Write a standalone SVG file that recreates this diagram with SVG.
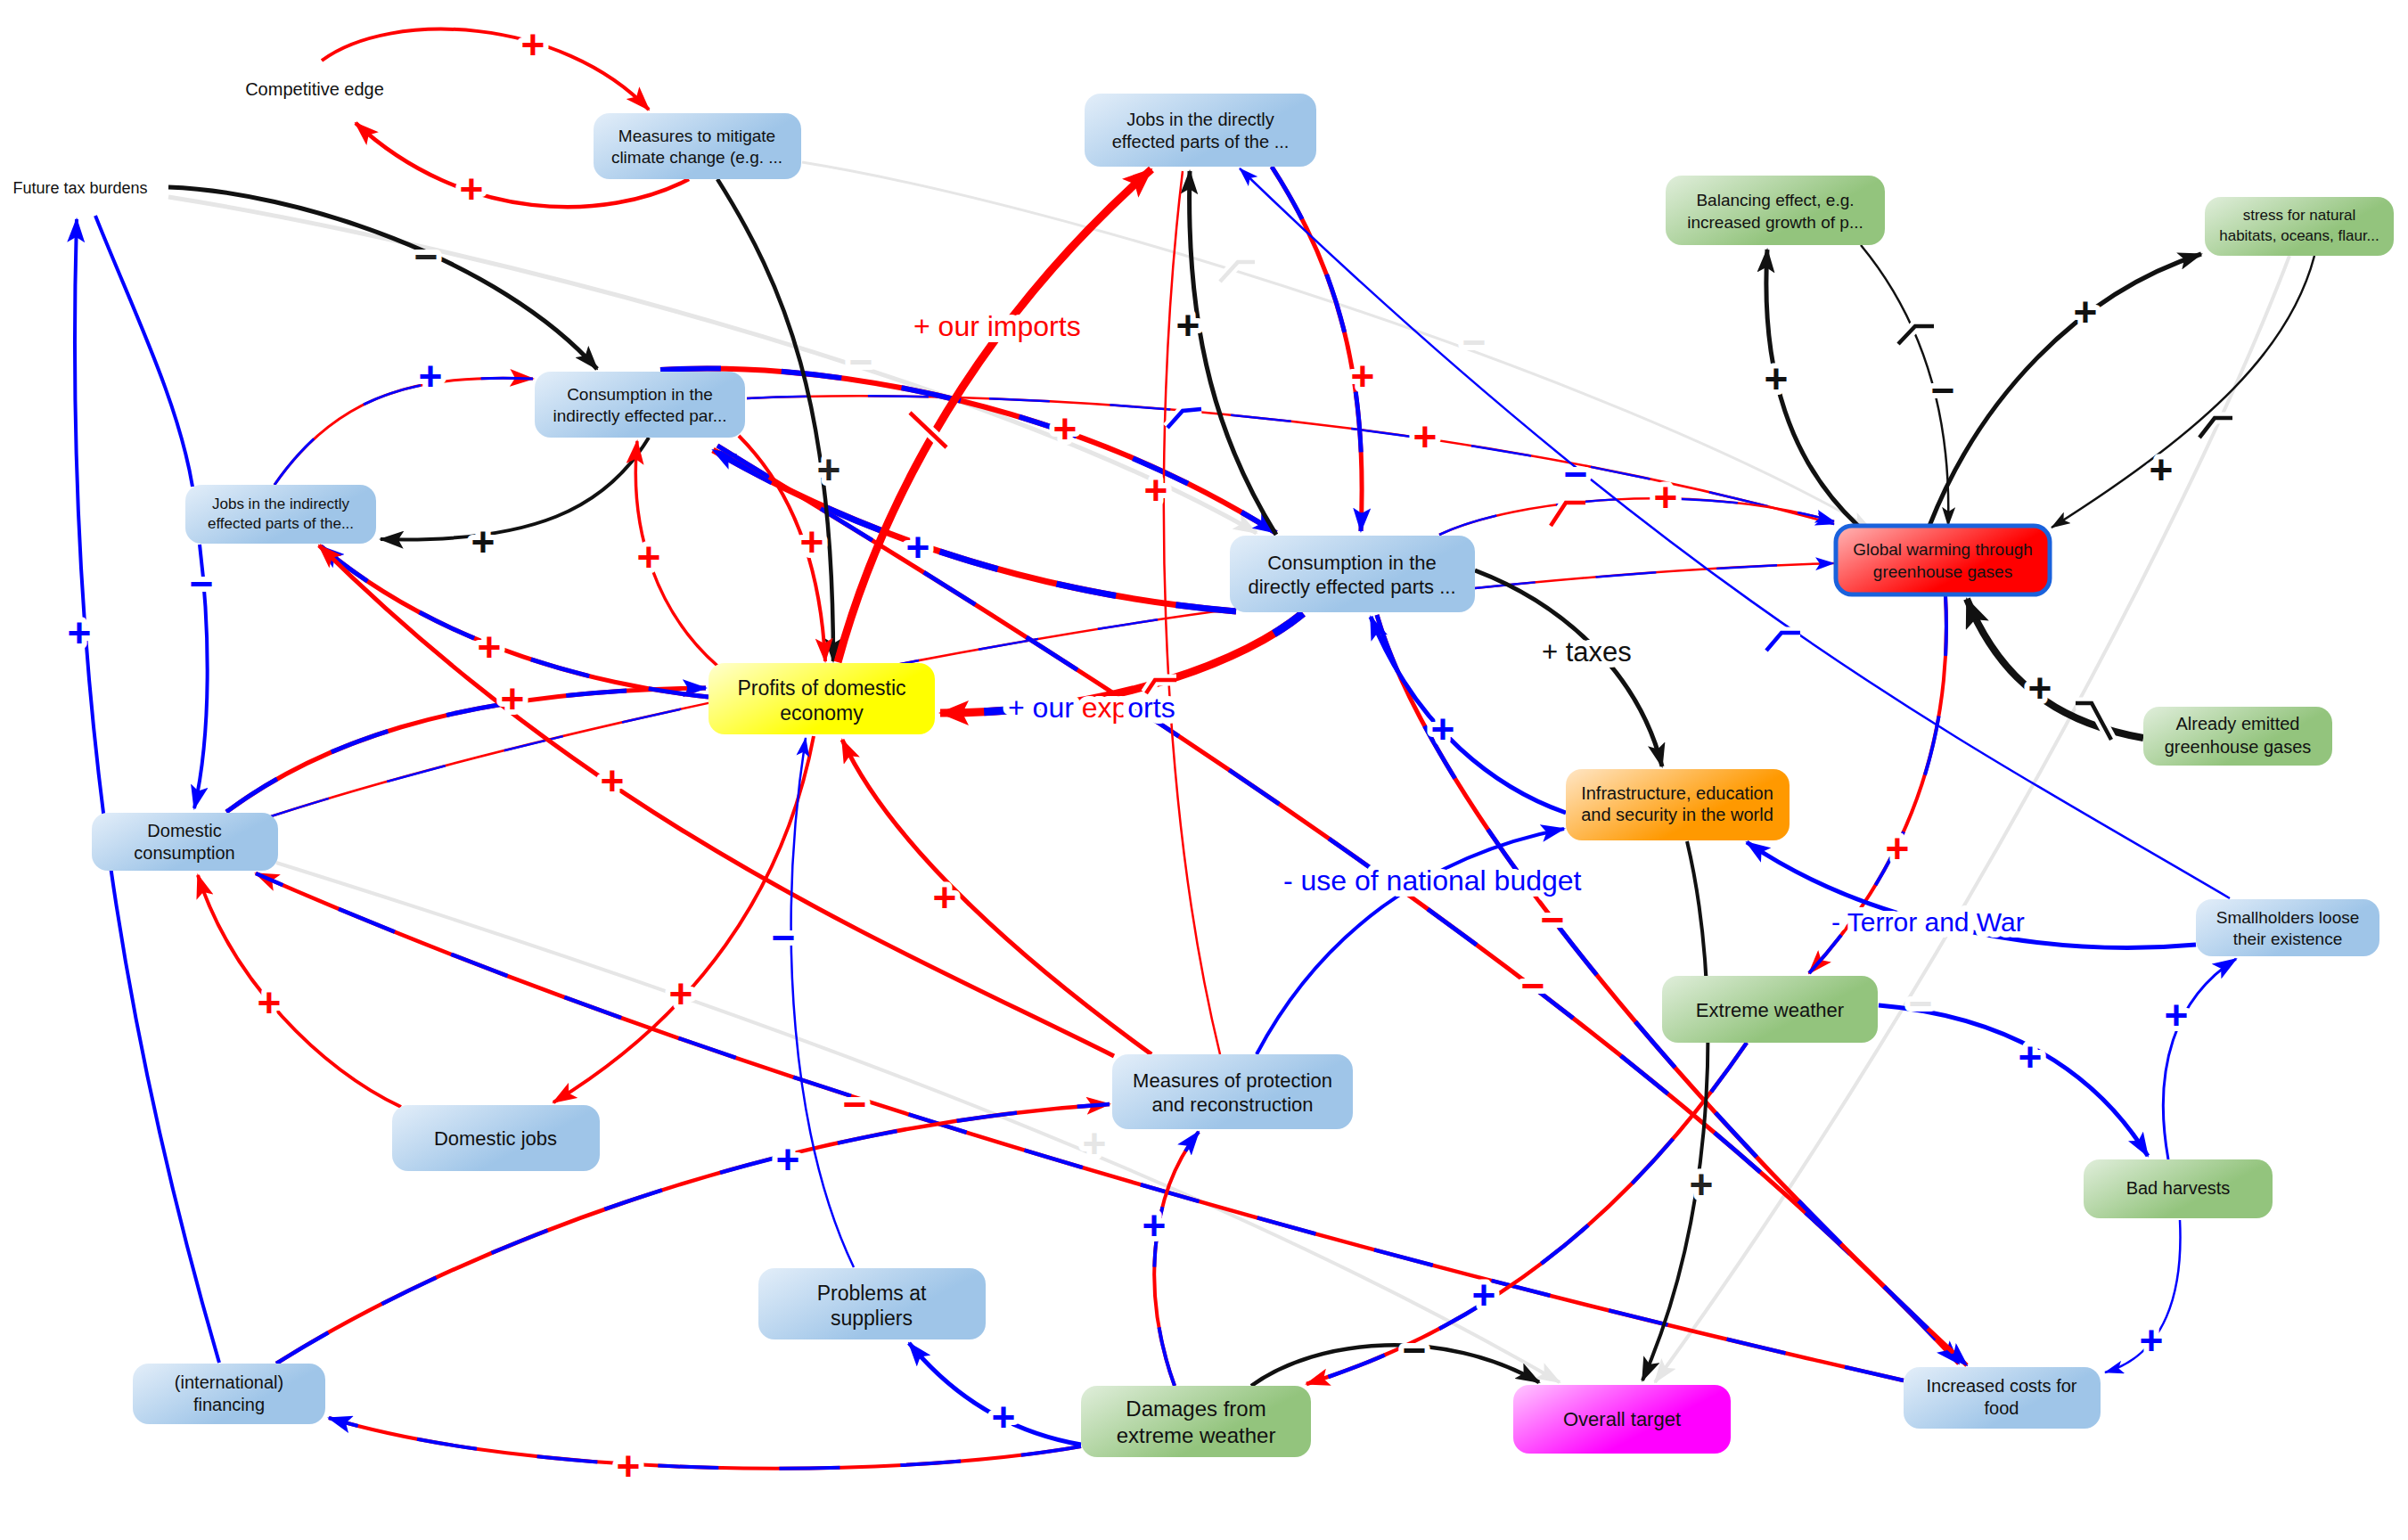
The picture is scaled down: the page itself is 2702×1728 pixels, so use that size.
<svg xmlns="http://www.w3.org/2000/svg" width="2702" height="1728" viewBox="0 0 2702 1728">
<defs>
<style>
.k{fill:none;stroke:#111}
.r{fill:none;stroke:#f00}
.b{fill:none;stroke:#00f}
.g{fill:none;stroke:#e6e6e6}
.d{stroke-dasharray:68 68}
.h{fill:none;stroke:#fff;stroke-width:13}
.lb{font-family:"Liberation Sans",Arial,sans-serif;font-size:46px;font-weight:bold;text-anchor:middle;stroke:#fff;stroke-width:12;paint-order:stroke;stroke-linejoin:round}
.bl{font-family:"Liberation Sans",Arial,sans-serif;stroke:#fff;stroke-width:14;paint-order:stroke;stroke-linejoin:round}
.nt{font-family:"Liberation Sans",Arial,sans-serif;fill:#111;text-anchor:middle}
</style>
<linearGradient id="gB" x1="0" y1="0" x2="0.75" y2="0.45"><stop offset="0" stop-color="#e3eef9"/><stop offset="1" stop-color="#9fc5e8"/></linearGradient>
<linearGradient id="gG" x1="0" y1="0" x2="0.75" y2="0.45"><stop offset="0" stop-color="#e0eedb"/><stop offset="1" stop-color="#93c47d"/></linearGradient>
<linearGradient id="gO" x1="0" y1="0" x2="0.75" y2="0.45"><stop offset="0" stop-color="#ffe6c6"/><stop offset="1" stop-color="#ff9900"/></linearGradient>
<linearGradient id="gY" x1="0" y1="0" x2="0.75" y2="0.45"><stop offset="0" stop-color="#ffffd0"/><stop offset="1" stop-color="#ffff00"/></linearGradient>
<linearGradient id="gM" x1="0" y1="0" x2="0.75" y2="0.45"><stop offset="0" stop-color="#ffc8ff"/><stop offset="1" stop-color="#ff00ff"/></linearGradient>
<linearGradient id="gR" x1="0" y1="0" x2="0.75" y2="0.45"><stop offset="0" stop-color="#ffb8b8"/><stop offset="1" stop-color="#ff0000"/></linearGradient>
<marker id="aR" viewBox="0 0 28 20" refX="26" refY="10" markerWidth="28" markerHeight="20" markerUnits="userSpaceOnUse" orient="auto"><path d="M0,0 L28,10 L0,20 L6,10 Z" fill="#f00"/></marker>
<marker id="aB" viewBox="0 0 28 20" refX="26" refY="10" markerWidth="28" markerHeight="20" markerUnits="userSpaceOnUse" orient="auto"><path d="M0,0 L28,10 L0,20 L6,10 Z" fill="#00f"/></marker>
<marker id="aK" viewBox="0 0 28 20" refX="26" refY="10" markerWidth="28" markerHeight="20" markerUnits="userSpaceOnUse" orient="auto"><path d="M0,0 L28,10 L0,20 L6,10 Z" fill="#111"/></marker>
<marker id="aG" viewBox="0 0 28 20" refX="26" refY="10" markerWidth="28" markerHeight="20" markerUnits="userSpaceOnUse" orient="auto"><path d="M0,0 L28,10 L0,20 L6,10 Z" fill="#e6e6e6"/></marker>
<marker id="aBs" viewBox="0 0 22 15" refX="21" refY="7.5" markerWidth="22" markerHeight="15" markerUnits="userSpaceOnUse" orient="auto"><path d="M0,0 L22,7.5 L0,15 L5,7.5 Z" fill="#00f"/></marker>
<marker id="aKs" viewBox="0 0 22 15" refX="21" refY="7.5" markerWidth="22" markerHeight="15" markerUnits="userSpaceOnUse" orient="auto"><path d="M0,0 L22,7.5 L0,15 L5,7.5 Z" fill="#111"/></marker>
<marker id="aGs" viewBox="0 0 22 15" refX="21" refY="7.5" markerWidth="22" markerHeight="15" markerUnits="userSpaceOnUse" orient="auto"><path d="M0,0 L22,7.5 L0,15 L5,7.5 Z" fill="#e6e6e6"/></marker>
<marker id="aRL" viewBox="0 0 34 28" refX="32" refY="14" markerWidth="34" markerHeight="28" markerUnits="userSpaceOnUse" orient="auto"><path d="M0,0 L34,14 L0,28 L7,14 Z" fill="#f00"/></marker>
<marker id="aKL" viewBox="0 0 34 28" refX="32" refY="14" markerWidth="34" markerHeight="28" markerUnits="userSpaceOnUse" orient="auto"><path d="M0,0 L34,14 L0,28 L7,14 Z" fill="#111"/></marker>
</defs>
<rect width="2702" height="1728" fill="#fff"/>

<g id="connectors">
<!-- gray -->
<path class="g" stroke-width="5" d="M189,221 C500,270 1100,420 1410,598" marker-end="url(#aG)"/>
<path class="g" stroke-width="3" d="M900,182 C1200,230 1800,420 2098,592" marker-end="url(#aGs)"/>
<path class="g" stroke-width="4" d="M310,968 C700,1090 1300,1290 1750,1551" marker-end="url(#aG)"/>
<path class="g" stroke-width="4" d="M2569,287 C2450,600 2150,1150 1857,1551" marker-end="url(#aG)"/>

<!-- mixed red/blue -->
<path class="r" stroke-width="2.5" d="M304,916 C600,820 1100,720 1387,683"/>
<path class="b d" stroke-width="2.5" d="M304,916 C600,820 1100,720 1387,683"/>
<path class="r" stroke-width="2.5" d="M838,447 C1100,435 1600,460 2058,588" marker-end="url(#aBs)"/>
<path class="b d" stroke-width="2.5" d="M838,447 C1100,435 1600,460 2058,588"/>
<path class="r" stroke-width="2.5" d="M1615,600 C1700,560 1900,540 2058,585" marker-end="url(#aBs)"/>
<path class="b d" stroke-width="2.5" d="M1615,600 C1700,560 1900,540 2058,585"/>
<path class="r" stroke-width="2.5" d="M1655,660 C1800,645 1950,635 2058,632" marker-end="url(#aBs)"/>
<path class="b d" stroke-width="2.5" d="M1655,660 C1800,645 1950,635 2058,632"/>
<path class="r" stroke-width="5" d="M1427,187 C1500,300 1535,420 1527,596" marker-end="url(#aB)"/>
<path class="b d" stroke-width="5" d="M1427,187 C1500,300 1535,420 1527,596"/>
<path class="r" stroke-width="6" d="M741,415 C900,405 1180,440 1432,598" marker-end="url(#aB)"/>
<path class="b d" stroke-width="6" d="M741,415 C900,405 1180,440 1432,598"/>
<path class="r" stroke-width="7" d="M1387,686 C1200,670 1000,620 800,505" marker-end="url(#aB)"/>
<path class="b d" stroke-width="7" d="M1387,686 C1200,670 1000,620 800,505"/>
<path class="r" stroke-width="5" d="M805,500 C1100,680 1800,1100 2198,1530" marker-end="url(#aB)"/>
<path class="b d" stroke-width="5" d="M805,500 C1100,680 1800,1100 2198,1530"/>
<path class="r" stroke-width="5" d="M1545,690 C1600,880 1850,1200 2207,1532" marker-end="url(#aB)"/>
<path class="b d" stroke-width="5" d="M1545,690 C1600,880 1850,1200 2207,1532"/>
<path class="r" stroke-width="5" d="M254,911 C350,840 500,775 792,772" marker-end="url(#aB)"/>
<path class="b d" stroke-width="5" d="M254,911 C350,840 500,775 792,772"/>
<path class="r" stroke-width="5" d="M795,782 C680,770 500,730 360,613" marker-end="url(#aB)"/>
<path class="b d" stroke-width="5" d="M795,782 C680,770 500,730 360,613"/>
<path class="r" stroke-width="4.5" d="M2136,1549 C1700,1450 900,1250 287,980" marker-end="url(#aR)"/>
<path class="b d" stroke-width="4.5" d="M2136,1549 C1700,1450 900,1250 287,980"/>
<path class="r" stroke-width="4.5" d="M1960,1170 C1850,1330 1700,1480 1466,1553" marker-end="url(#aR)"/>
<path class="b d" stroke-width="4.5" d="M1960,1170 C1850,1330 1700,1480 1466,1553"/>
<path class="r" stroke-width="4" d="M2183,668 C2190,800 2160,950 2030,1092" marker-end="url(#aR)"/>
<path class="b d" stroke-width="4" d="M2183,668 C2190,800 2160,950 2030,1092"/>
<path class="r" stroke-width="4.5" d="M310,1530 C500,1410 850,1265 1245,1239" marker-end="url(#aR)"/>
<path class="b d" stroke-width="4.5" d="M310,1530 C500,1410 850,1265 1245,1239"/>
<path class="r" stroke-width="4" d="M1318,1555 C1280,1450 1290,1340 1345,1270" marker-end="url(#aB)"/>
<path class="b d" stroke-width="4" d="M1318,1555 C1280,1450 1290,1340 1345,1270"/>
<path class="r" stroke-width="4" d="M1213,1623 C1000,1660 600,1660 369,1591" marker-end="url(#aB)"/>
<path class="b d" stroke-width="4" d="M1213,1623 C1000,1660 600,1660 369,1591"/>
<path class="r" stroke-width="3" d="M308,544 C380,440 470,420 598,425" marker-end="url(#aR)"/>
<path class="b d" stroke-width="3" d="M308,544 C380,440 470,420 598,425"/>

<!-- black -->
<path class="k" stroke-width="5" d="M189,210 C330,215 560,290 670,414" marker-end="url(#aK)"/>
<path class="k" stroke-width="4.5" d="M805,201 C880,320 935,450 935,742" marker-end="url(#aK)"/>
<path class="k" stroke-width="5" d="M1432,600 C1370,500 1330,380 1335,192" marker-end="url(#aK)"/>
<path class="k" stroke-width="4" d="M728,491 C680,570 600,610 427,605" marker-end="url(#aK)"/>
<path class="k" stroke-width="5" d="M1655,640 C1760,680 1840,760 1865,860" marker-end="url(#aK)"/>
<path class="k" stroke-width="4.5" d="M1404,1555 C1480,1500 1620,1490 1727,1551" marker-end="url(#aK)"/>
<path class="k" stroke-width="4" d="M1893,944 C1930,1100 1930,1350 1843,1549" marker-end="url(#aK)"/>
<path class="k" stroke-width="2.5" d="M2597,287 C2570,390 2480,480 2302,592" marker-end="url(#aKs)"/>
<path class="k" stroke-width="5" d="M2165,590 C2220,450 2330,330 2470,285" marker-end="url(#aK)"/>
<path class="k" stroke-width="5" d="M2085,590 C2010,520 1975,420 1983,280" marker-end="url(#aK)"/>
<path class="k" stroke-width="2.5" d="M2088,275 C2150,350 2190,450 2186,590" marker-end="url(#aKs)"/>
<path class="k" stroke-width="8" d="M2405,828 C2330,815 2250,780 2207,672" marker-end="url(#aKL)"/>

<!-- red -->
<path class="r" stroke-width="4" d="M361,68 C440,10 630,20 728,123" marker-end="url(#aR)"/>
<path class="r" stroke-width="4.5" d="M773,201 C680,250 520,250 399,138" marker-end="url(#aR)"/>
<path class="r" stroke-width="9" d="M940,743 C990,560 1100,360 1292,190" marker-end="url(#aRL)"/>
<path class="r" stroke-width="5" d="M1250,1185 C1000,1060 680,930 358,612" marker-end="url(#aR)"/>
<path class="r" stroke-width="5" d="M1292,1183 C1150,1080 1000,950 945,830" marker-end="url(#aR)"/>
<path class="r" stroke-width="2.5" d="M1369,1183 C1300,900 1290,500 1327,192"/>
<path class="r" stroke-width="4" d="M450,1242 C360,1200 260,1100 222,982" marker-end="url(#aR)"/>
<path class="r" stroke-width="4" d="M913,826 C880,1000 780,1140 621,1237" marker-end="url(#aR)"/>
<path class="r" stroke-width="3.5" d="M805,747 C740,690 705,600 715,495" marker-end="url(#aR)"/>
<path class="r" stroke-width="4" d="M829,489 C880,540 920,620 926,742" marker-end="url(#aR)"/>
<path class="r" stroke-width="9" d="M1462,688 C1400,740 1250,800 1055,800" marker-end="url(#aRL)"/>
<path class="b" stroke-width="9" stroke-dasharray="40 300" d="M1462,688 C1400,740 1250,800 1055,800"/>

<!-- blue -->
<path class="b" stroke-width="2.5" d="M2502,1008 C2200,830 1900,680 1391,189" marker-end="url(#aBs)"/>
<path class="b" stroke-width="5" d="M1757,912 C1680,885 1590,820 1538,692" marker-end="url(#aB)"/>
<path class="b" stroke-width="2.5" d="M958,1422 C890,1280 870,1050 904,828" marker-end="url(#aBs)"/>
<path class="b" stroke-width="5" d="M1213,1621 C1150,1610 1080,1580 1020,1507" marker-end="url(#aB)"/>
<path class="b" stroke-width="4" d="M246,1529 C150,1200 70,800 86,246" marker-end="url(#aB)"/>
<path class="b" stroke-width="4" d="M107,242 C150,350 200,450 216,546"/>
<path class="b" stroke-width="4" d="M224,611 C235,700 238,820 218,907" marker-end="url(#aB)"/>
<path class="b" stroke-width="4" d="M1410,1183 C1480,1050 1600,960 1755,930" marker-end="url(#aB)"/>
<path class="b" stroke-width="5" d="M2464,1060 C2300,1075 2100,1040 1960,945" marker-end="url(#aB)"/>
<path class="b" stroke-width="5" d="M2108,1128 C2250,1140 2350,1200 2410,1297" marker-end="url(#aB)"/>
<path class="b" stroke-width="3" d="M2433,1301 C2415,1200 2440,1120 2509,1076" marker-end="url(#aB)"/>
<path class="b" stroke-width="2.5" d="M2446,1369 C2450,1450 2430,1520 2362,1540" marker-end="url(#aBs)"/>

<!-- marks -->
<path class="h" d="M1369,316 L1389,294 L1408,294"/><path fill="none" stroke="#e6e6e6" stroke-width="4.5" d="M1369,316 L1389,294 L1408,294"/>
<path class="h" d="M1740,590 L1757,564 L1779,564"/><path fill="none" stroke="#f00" stroke-width="4.5" d="M1740,590 L1757,564 L1779,564"/>
<path class="h" d="M1310,480 L1327,461 L1348,459"/><path fill="none" stroke="#00f" stroke-width="4.5" d="M1310,480 L1327,461 L1348,459"/>
<path class="h" d="M2130,386 L2149,366 L2170,366"/><path fill="none" stroke="#111" stroke-width="4.5" d="M2130,386 L2149,366 L2170,366"/>
<path class="h" d="M2468,491 L2485,469 L2505,469"/><path fill="none" stroke="#111" stroke-width="4.5" d="M2468,491 L2485,469 L2505,469"/>
<path class="h" d="M2329,789 L2347,789 L2369,830"/><path fill="none" stroke="#111" stroke-width="4.5" d="M2329,789 L2347,789 L2369,830"/>
<path class="h" d="M1982,730 L1999,710 L2020,710"/><path fill="none" stroke="#00f" stroke-width="4.5" d="M1982,730 L1999,710 L2020,710"/>
<path class="h" d="M1286,778 L1296,763 L1320,763"/><path fill="none" stroke="#f00" stroke-width="4.5" d="M1286,778 L1296,763 L1320,763"/>
<path class="h" d="M1021,463 L1062,502"/><path fill="none" stroke="#f00" stroke-width="4.5" d="M1021,463 L1062,502"/>

<!-- polarity labels -->
<g class="lb">
<text x="598" y="66" fill="#f00">+</text>
<text x="529" y="228" fill="#f00">+</text>
<text x="478" y="304" fill="#222">−</text>
<text x="966" y="422" fill="#e6e6e6">−</text>
<text x="1654" y="400" fill="#e6e6e6">−</text>
<text x="930" y="543" fill="#222">+</text>
<text x="1333" y="381" fill="#111">+</text>
<text x="1529" y="438" fill="#f00">+</text>
<text x="1768" y="548" fill="#00f">−</text>
<text x="1599" y="506" fill="#f00">+</text>
<text x="1869" y="574" fill="#f00">+</text>
<text x="1195" y="497" fill="#f00">+</text>
<text x="1030" y="630" fill="#00f">+</text>
<text x="1720" y="1122" fill="#f00">−</text>
<text x="1742" y="1048" fill="#f00">−</text>
<text x="1619" y="834" fill="#00f">+</text>
<text x="575" y="800" fill="#f00">+</text>
<text x="549" y="742" fill="#f00">+</text>
<text x="687" y="892" fill="#f00">+</text>
<text x="1060" y="1023" fill="#f00">+</text>
<text x="1297" y="566" fill="#f00">+</text>
<text x="302" y="1141" fill="#f00">+</text>
<text x="764" y="1131" fill="#f00">+</text>
<text x="879" y="1068" fill="#00f">−</text>
<text x="1126" y="1606" fill="#00f">+</text>
<text x="705" y="1661" fill="#f00">+</text>
<text x="89" y="726" fill="#00f">+</text>
<text x="226" y="671" fill="#00f">−</text>
<text x="542" y="624" fill="#111">+</text>
<text x="483" y="438" fill="#00f">+</text>
<text x="728" y="641" fill="#f00">+</text>
<text x="911" y="624" fill="#f00">+</text>
<text x="959" y="1255" fill="#f00">−</text>
<text x="1228" y="1299" fill="#e6e6e6">+</text>
<text x="1587" y="1531" fill="#111">−</text>
<text x="1665" y="1469" fill="#00f">+</text>
<text x="1909" y="1345" fill="#222">+</text>
<text x="2155" y="1142" fill="#e6e6e6">−</text>
<text x="2425" y="543" fill="#111">+</text>
<text x="2340" y="366" fill="#111">+</text>
<text x="1993" y="441" fill="#111">+</text>
<text x="2180" y="454" fill="#111">−</text>
<text x="2289" y="788" fill="#111">+</text>
<text x="2129" y="968" fill="#f00">+</text>
<text x="2278" y="1202" fill="#00f">+</text>
<text x="2442" y="1155" fill="#00f">+</text>
<text x="2414" y="1520" fill="#00f">+</text>
<text x="884" y="1317" fill="#00f">+</text>
<text x="1295" y="1391" fill="#00f">+</text>
</g>

<!-- edge text labels -->
<text class="bl" x="1025" y="377" font-size="32" fill="#f00">+ our imports</text>
<text class="bl" x="1131" y="805" font-size="32"><tspan fill="#00f">+ our </tspan><tspan fill="#f00">exp</tspan><tspan fill="#00f">orts</tspan></text>
<text class="bl" x="1730" y="742" font-size="31" fill="#111">+ taxes</text>
<text class="bl" x="1440" y="999" font-size="32" fill="#00f">- use of national budget</text>
<text class="bl" x="2055" y="1045" font-size="30" fill="#00f">- Terror and War</text>
</g>

<g id="n-competitive-edge"><text class="nt" x="353" y="107" font-size="20">Competitive edge</text></g>
<g id="n-future-tax"><text class="nt" x="90" y="217" font-size="18">Future tax burdens</text></g>
<g id="n-measures-mitigate"><rect x="666" y="127" width="233" height="74" rx="18" fill="url(#gB)"/><text class="nt" font-size="19"><tspan x="782" y="159">Measures to mitigate</tspan><tspan x="782" y="183">climate change (e.g. ...</tspan></text></g>
<g id="n-jobs-direct"><rect x="1217" y="105" width="260" height="82" rx="18" fill="url(#gB)"/><text class="nt" font-size="20"><tspan x="1347" y="141">Jobs in the directly</tspan><tspan x="1347" y="166">effected parts of the ...</tspan></text></g>
<g id="n-balancing"><rect x="1869" y="197" width="246" height="78" rx="18" fill="url(#gG)"/><text class="nt" font-size="19"><tspan x="1992" y="231">Balancing effect, e.g.</tspan><tspan x="1992" y="256">increased growth of p...</tspan></text></g>
<g id="n-stress"><rect x="2474" y="221" width="212" height="66" rx="18" fill="url(#gG)"/><text class="nt" font-size="17"><tspan x="2580" y="247">stress for natural</tspan><tspan x="2580" y="270">habitats, oceans, flaur...</tspan></text></g>
<g id="n-cons-indirect"><rect x="600" y="417" width="236" height="74" rx="18" fill="url(#gB)"/><text class="nt" font-size="19"><tspan x="718" y="449">Consumption in the</tspan><tspan x="718" y="473">indirectly effected par...</tspan></text></g>
<g id="n-jobs-indirect"><rect x="208" y="544" width="214" height="66" rx="18" fill="url(#gB)"/><text class="nt" font-size="17"><tspan x="315" y="571">Jobs in the indirectly</tspan><tspan x="315" y="593">effected parts of the...</tspan></text></g>
<g id="n-cons-direct"><rect x="1380" y="601" width="275" height="86" rx="18" fill="url(#gB)"/><text class="nt" font-size="22"><tspan x="1517" y="639">Consumption in the</tspan><tspan x="1517" y="666">directly effected parts ...</tspan></text></g>
<g id="n-global-warming"><rect x="2060" y="590" width="240" height="77" rx="18" fill="url(#gR)" stroke="#1a62dc" stroke-width="5"/><text class="nt" font-size="19"><tspan x="2180" y="623">Global warming through</tspan><tspan x="2180" y="648">greenhouse gases</tspan></text></g>
<g id="n-profits"><rect x="795" y="744" width="254" height="80" rx="18" fill="url(#gY)"/><text class="nt" font-size="23"><tspan x="922" y="780">Profits of domestic</tspan><tspan x="922" y="808">economy</tspan></text></g>
<g id="n-dom-cons"><rect x="103" y="912" width="209" height="65" rx="18" fill="url(#gB)"/><text class="nt" font-size="20"><tspan x="207" y="939">Domestic</tspan><tspan x="207" y="964">consumption</tspan></text></g>
<g id="n-already"><rect x="2405" y="793" width="212" height="66" rx="18" fill="url(#gG)"/><text class="nt" font-size="20"><tspan x="2511" y="819">Already emitted</tspan><tspan x="2511" y="845">greenhouse gases</tspan></text></g>
<g id="n-infra"><rect x="1757" y="863" width="251" height="80" rx="18" fill="url(#gO)"/><text class="nt" font-size="20"><tspan x="1882" y="897">Infrastructure, education</tspan><tspan x="1882" y="921">and security in the world</tspan></text></g>
<g id="n-smallholders"><rect x="2464" y="1009" width="206" height="64" rx="18" fill="url(#gB)"/><text class="nt" font-size="19"><tspan x="2567" y="1036">Smallholders loose</tspan><tspan x="2567" y="1060">their existence</tspan></text></g>
<g id="n-extreme"><rect x="1865" y="1095" width="242" height="75" rx="18" fill="url(#gG)"/><text class="nt" font-size="22" x="1986" y="1141">Extreme weather</text></g>
<g id="n-bad-harvests"><rect x="2338" y="1301" width="212" height="66" rx="18" fill="url(#gG)"/><text class="nt" font-size="20" x="2444" y="1340">Bad harvests</text></g>
<g id="n-protection"><rect x="1248" y="1183" width="270" height="84" rx="18" fill="url(#gB)"/><text class="nt" font-size="22"><tspan x="1383" y="1220">Measures of protection</tspan><tspan x="1383" y="1247">and reconstruction</tspan></text></g>
<g id="n-dom-jobs"><rect x="440" y="1240" width="233" height="74" rx="18" fill="url(#gB)"/><text class="nt" font-size="22" x="556" y="1285">Domestic jobs</text></g>
<g id="n-suppliers"><rect x="851" y="1423" width="255" height="80" rx="18" fill="url(#gB)"/><text class="nt" font-size="23"><tspan x="978" y="1459">Problems at</tspan><tspan x="978" y="1487">suppliers</tspan></text></g>
<g id="n-financing"><rect x="149" y="1530" width="216" height="68" rx="18" fill="url(#gB)"/><text class="nt" font-size="20"><tspan x="257" y="1558">(international)</tspan><tspan x="257" y="1583">financing</tspan></text></g>
<g id="n-damages"><rect x="1213" y="1555" width="258" height="80" rx="18" fill="url(#gG)"/><text class="nt" font-size="24"><tspan x="1342" y="1589">Damages from</tspan><tspan x="1342" y="1619">extreme weather</tspan></text></g>
<g id="n-overall"><rect x="1698" y="1554" width="244" height="77" rx="18" fill="url(#gM)"/><text class="nt" font-size="22" x="1820" y="1600">Overall target</text></g>
<g id="n-food"><rect x="2136" y="1534" width="221" height="69" rx="18" fill="url(#gB)"/><text class="nt" font-size="20"><tspan x="2246" y="1562">Increased costs for</tspan><tspan x="2246" y="1587">food</tspan></text></g>
</svg>
